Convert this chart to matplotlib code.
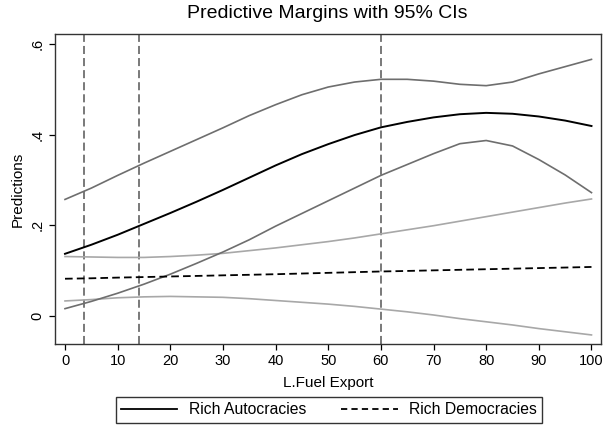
import matplotlib
matplotlib.use("Agg")
import matplotlib.pyplot as plt
from matplotlib.lines import Line2D

plt.rcParams['font.family'] = ['Liberation Sans', 'DejaVu Sans']
plt.rcParams['lines.scale_dashes'] = False

# x grid of fuel export values
x = [0, 5, 10, 15, 20, 25, 30, 35, 40, 45, 50, 55, 60, 65, 70, 75, 80, 85, 90, 95, 100]

# Rich Autocracies: margin and 95% CI
auto_mean = [0.137, 0.157, 0.179, 0.203, 0.227, 0.252, 0.278, 0.305, 0.332, 0.357, 0.379,
             0.399, 0.416, 0.428, 0.438, 0.445, 0.448, 0.446, 0.440, 0.431, 0.419]
auto_upper = [0.257, 0.282, 0.310, 0.337, 0.363, 0.389, 0.415, 0.442, 0.466, 0.488, 0.505,
              0.516, 0.522, 0.522, 0.518, 0.511, 0.508, 0.516, 0.534, 0.550, 0.566]
auto_lower = [0.016, 0.032, 0.050, 0.070, 0.092, 0.116, 0.141, 0.168, 0.198, 0.226, 0.254,
              0.282, 0.310, 0.334, 0.358, 0.380, 0.387, 0.375, 0.345, 0.311, 0.272]

# Rich Democracies: margin and 95% CI
dem_mean = [0.082, 0.083, 0.0845, 0.0857, 0.087, 0.0882, 0.0895, 0.0907, 0.092, 0.0935, 0.095,
            0.0965, 0.098, 0.0992, 0.1005, 0.1017, 0.103, 0.1042, 0.1055, 0.1067, 0.108]
dem_upper = [0.131, 0.130, 0.129, 0.129, 0.131, 0.134, 0.138, 0.144, 0.150, 0.157, 0.164,
             0.172, 0.181, 0.190, 0.199, 0.209, 0.219, 0.229, 0.239, 0.249, 0.258]
dem_lower = [0.033, 0.036, 0.040, 0.042, 0.043, 0.042, 0.041, 0.038, 0.034, 0.030, 0.026,
             0.021, 0.015, 0.009, 0.002, -0.006, -0.013, -0.020, -0.028, -0.035, -0.042]

# reference vertical lines
vlines = [3.7, 14, 60]

xticks = [0, 10, 20, 30, 40, 50, 60, 70, 80, 90, 100]
yticks = [0, 0.2, 0.4, 0.6]
yticklabels = ['0', '.2', '.4', '.6']

fig = plt.figure(figsize=(6.04, 4.26), dpi=100)
ax = fig.add_axes([55 / 604, 1 - 344 / 426, (600.7 - 55) / 604, (344 - 34) / 426])

for v in vlines:
    ax.axvline(v, color='#555555', lw=1.1, dashes=(5.8, 2.9), zorder=1)

ax.plot(x, dem_upper, color='#a8a8a8', lw=1.2, zorder=2)
ax.plot(x, dem_lower, color='#a8a8a8', lw=1.2, zorder=2)
ax.plot(x, auto_upper, color='#6e6e6e', lw=1.2, zorder=3)
ax.plot(x, auto_lower, color='#6e6e6e', lw=1.2, zorder=3)
ax.plot(x, dem_mean, color='black', lw=1.3, dashes=(5.5, 3.0), zorder=4)
ax.plot(x, auto_mean, color='black', lw=1.4, zorder=5)

ax.set_xlim(-1.9, 101.75)
ax.set_ylim(-0.062, 0.622)
ax.set_xticks(xticks)
ax.set_xticklabels([str(t) for t in xticks], fontsize=10.5)
ax.set_yticks(yticks)
ax.set_yticklabels(yticklabels, fontsize=10.5, rotation=90, va='center')
ax.tick_params(direction='out', length=4.5, width=0.9, colors='black', pad=3)
for s in ax.spines.values():
    s.set_linewidth(1.0)
    s.set_color('#333333')

ax.set_xlabel('L.Fuel Export', fontsize=11, labelpad=5.5)
ax.set_ylabel('Predictions', fontsize=11, labelpad=4)

fig.text(0.541, 1 - 13 / 426, 'Predictive Margins with 95% CIs', fontsize=14,
         ha='center', va='center')

handles = [Line2D([], [], color='black', lw=1.3),
           Line2D([], [], color='black', lw=1.3, dashes=(4.5, 3.0))]
leg = fig.legend(handles, ['Rich Autocracies', 'Rich Democracies'], ncol=2,
                 loc='center', bbox_to_anchor=(329 / 604, 1 - 410 / 426),
                 fontsize=11.3, frameon=True, fancybox=False, edgecolor='black',
                 handlelength=3.6, handletextpad=0.75, columnspacing=2.2,
                 borderpad=0.32, borderaxespad=0)
leg.get_frame().set_linewidth(1.0)

fig.savefig('out.png', dpi=100)
